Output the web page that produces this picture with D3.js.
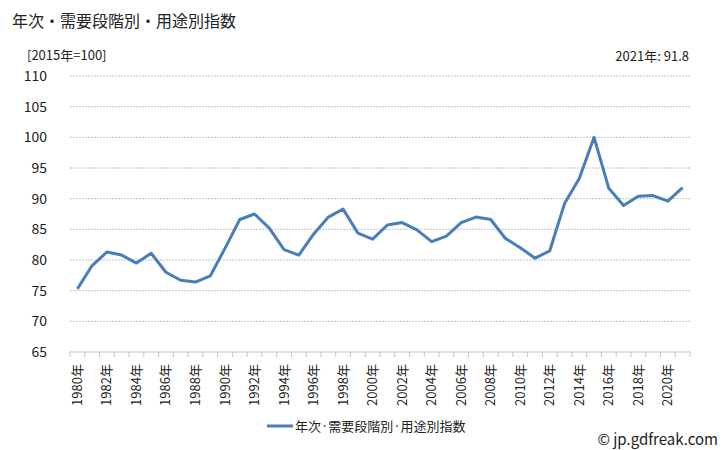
<!DOCTYPE html>
<html>
<head>
<meta charset="utf-8">
<script src="https://cdn.jsdelivr.net/npm/d3@7"></script>
<style>
body { margin: 0; background: #fff; }
text { font-family: "Noto Sans CJK JP", "Noto Sans", sans-serif; fill: #222; }
</style>
</head>
<body>
<script>
var years = [1980, 1981, 1982, 1983, 1984, 1985, 1986, 1987, 1988, 1989, 1990, 1991, 1992, 1993,
    1994, 1995, 1996, 1997, 1998, 1999, 2000, 2001, 2002, 2003, 2004, 2005, 2006, 2007, 2008,
    2009, 2010, 2011, 2012, 2013, 2014, 2015, 2016, 2017, 2018, 2019, 2020, 2021
]
var index_values = [75.3, 79.1, 81.3, 80.8, 79.5, 81.1, 78.0, 76.7, 76.4, 77.4, 81.9, 86.6, 87.5, 85.2,
    81.7, 80.8, 84.2, 87.0, 88.3, 84.4, 83.4, 85.7, 86.1, 84.9, 83.0, 83.9, 86.1, 87.0, 86.6,
    83.5, 82.0, 80.3, 81.5, 89.2, 93.3, 100.0, 91.7, 88.9, 90.4, 90.5, 89.6, 91.8
]
var y_ticks = [65, 70, 75, 80, 85, 90, 95, 100, 105, 110]

const width = 728
const height = 450
const plotLeft = 70, plotRight = 690, plotTop = 76, plotBottom = 352

var svg = d3.select("body").append("svg").attr("width", width).attr("height", height)

var xScale = d3.scaleBand().domain(years).range([plotLeft, plotRight])
var yScale = d3.scaleLinear().domain([65, 110]).range([plotBottom, plotTop])

// grid lines
svg.append("g").selectAll("line").data(y_ticks.slice(1)).enter()
    .append("line")
    .attr("x1", plotLeft).attr("x2", plotRight)
    .attr("y1", (d) => yScale(d)).attr("y2", (d) => yScale(d))
    .attr("stroke", "#c4c4c4")
    .attr("stroke-dasharray", "2,1")

// y axis labels
svg.append("g").selectAll("text").data(y_ticks).enter()
    .append("text")
    .attr("x", 47)
    .attr("y", (d) => yScale(d) + 5)
    .attr("text-anchor", "end")
    .attr("font-size", "14px")
    .text((d) => d)

// x axis line + ticks
svg.append("line").attr("x1", plotLeft).attr("x2", plotRight).attr("y1", plotBottom).attr("y2", plotBottom)
    .attr("stroke", "#c4c4c4")
svg.append("g").selectAll("line").data(years.concat([2022])).enter()
    .append("line")
    .attr("x1", (d) => d == 2022 ? plotRight : xScale(d))
    .attr("x2", (d) => d == 2022 ? plotRight : xScale(d))
    .attr("y1", plotBottom).attr("y2", plotBottom + 5)
    .attr("stroke", "#c4c4c4")

svg.append("g").selectAll("text").data(years.filter((d) => d % 2 == 0)).enter()
    .append("text")
    .attr("transform", (d) => "translate(" + (xScale(d) + xScale.bandwidth() / 2 + 4.5) + "," + 364 + ") rotate(-90)")
    .attr("text-anchor", "end")
    .attr("font-size", "13px")
    .text((d) => d + "年")

// the line
var lineGenerator = d3.line()
    .x((d, i) => xScale(years[i]) + xScale.bandwidth() / 2)
    .y((d) => yScale(d))

svg.append("path")
    .datum(index_values)
    .attr("fill", "none")
    .attr("stroke", "#4a7ebb")
    .attr("stroke-width", 3)
    .attr("stroke-linejoin", "round")
    .attr("d", lineGenerator)

// texts
svg.append("text").attr("x", 12).attr("y", 27).attr("font-size", "16px").text("年次・需要段階別・用途別指数")
svg.append("text").attr("x", 27).attr("y", 60).attr("font-size", "13px").text("[2015年=100]")
svg.append("text").attr("x", 689).attr("y", 61).attr("text-anchor", "end").attr("font-size", "13px")
    .text("2021年: " + index_values[index_values.length - 1])

// legend
svg.append("line").attr("x1", 267).attr("x2", 293).attr("y1", 426).attr("y2", 426)
    .attr("stroke", "#4a7ebb").attr("stroke-width", 3)
svg.append("text").attr("x", 295).attr("y", 431).attr("font-size", "13px").text("年次·需要段階別·用途別指数")

svg.append("text").attr("x", 718).attr("y", 445).attr("text-anchor", "end").attr("font-size", "15px")
    .text("© jp.gdfreak.com")
</script>
</body>
</html>
